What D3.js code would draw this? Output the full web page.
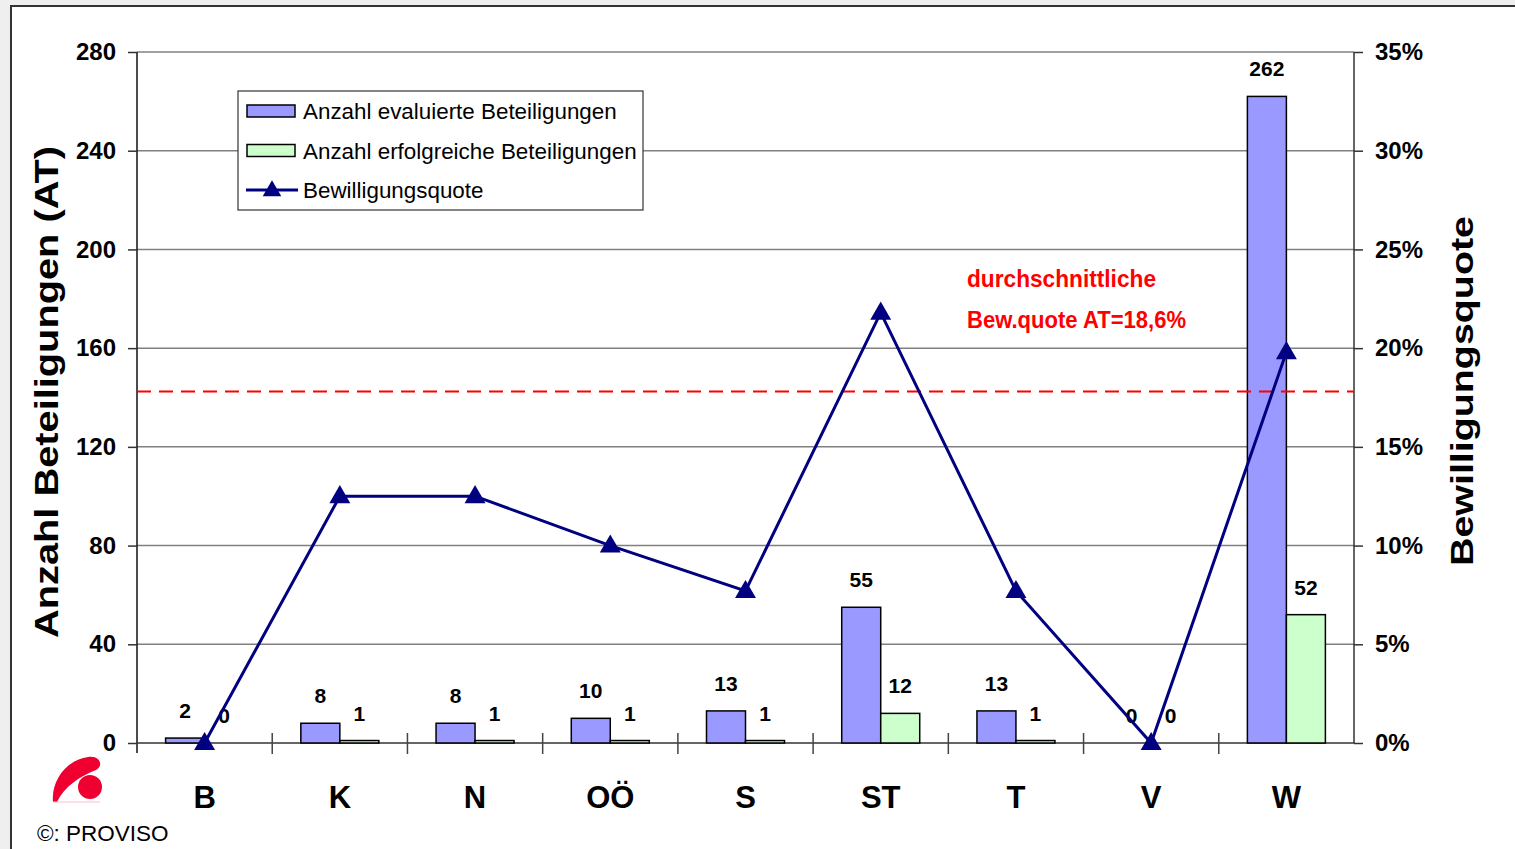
<!DOCTYPE html>
<html>
<head>
<meta charset="utf-8">
<script src="https://cdn.jsdelivr.net/npm/d3@7"></script>
<style>
  body { margin: 0; background: #efefef; }
  svg { display: block; }
</style>
</head>
<body>
<svg id="chart" width="1515" height="849"></svg>
<script>
// data
var regions = ["B", "K", "N", "OÖ", "S", "ST", "T", "V", "W"];
var evaluated = [2, 8, 8, 10, 13, 55, 13, 0, 262];
var successful = [0, 1, 1, 1, 1, 12, 1, 0, 52];
var quote = [0, 0.125, 0.125, 0.10, 0.077, 0.218, 0.077, 0, 0.198];
var averageLine = 0.178;
var leftTicks = [0, 40, 80, 120, 160, 200, 240, 280];
var rightTicks = [0, 0.05, 0.10, 0.15, 0.20, 0.25, 0.30, 0.35];
var legendNames = ["Anzahl evaluierte Beteiligungen", "Anzahl erfolgreiche Beteiligungen", "Bewilligungsquote"];

var svg = d3.select("#chart");
var font = "'Liberation Sans', Arial, sans-serif";
var margin = { left: 137, right: 1354, top: 52, bottom: 743 };

// white panel with frame
svg.append("rect")
  .attr("x", 11).attr("y", 6)
  .attr("width", 1515).attr("height", 900)
  .attr("fill", "white")
  .attr("stroke", "#333").attr("stroke-width", 2);

var x = d3.scaleBand()
  .domain(regions)
  .range([margin.left, margin.right]);

var y = d3.scaleLinear()
  .domain([0, 280])
  .range([margin.bottom, margin.top]);

var y2 = d3.scaleLinear()
  .domain([0, 0.35])
  .range([margin.bottom, margin.top]);

var barW = 39;

// gridlines
svg.append("g")
  .selectAll("line")
  .data(leftTicks.slice(1))
  .join("line")
  .attr("x1", margin.left).attr("x2", margin.right)
  .attr("y1", d => y(d)).attr("y2", d => y(d))
  .attr("stroke", "#808080").attr("stroke-width", 1.5);

// left axis
var leftAxis = svg.append("g")
  .attr("transform", "translate(" + margin.left + ",0)")
  .call(d3.axisLeft(y).tickValues(leftTicks).tickSize(9).tickPadding(12));
leftAxis.select(".domain").attr("stroke", "#111").attr("stroke-width", 1.5)
  .attr("d", "M0," + margin.top + "V" + (margin.bottom + 10));
leftAxis.selectAll(".tick line").attr("stroke", "#333").attr("stroke-width", 1.5);
leftAxis.selectAll(".tick text")
  .attr("font-family", font).attr("font-size", 24).attr("font-weight", "bold")
  .attr("fill", "#000");

// right axis
var rightAxis = svg.append("g")
  .attr("transform", "translate(" + margin.right + ",0)")
  .call(d3.axisRight(y2).tickValues(rightTicks).tickSize(9).tickPadding(12)
    .tickFormat(d3.format(".0%")));
rightAxis.select(".domain").attr("stroke", "#333").attr("stroke-width", 1.5)
  .attr("d", "M0," + margin.top + "V" + margin.bottom);
rightAxis.selectAll(".tick line").attr("stroke", "#333").attr("stroke-width", 1.5);
rightAxis.selectAll(".tick text")
  .attr("font-family", font).attr("font-size", 24).attr("font-weight", "bold")
  .attr("fill", "#000");

// bottom axis
var bottomAxis = svg.append("g")
  .attr("transform", "translate(0," + margin.bottom + ")");
bottomAxis.append("line")
  .attr("x1", margin.left).attr("x2", margin.right)
  .attr("stroke", "#333").attr("stroke-width", 1.5);
bottomAxis.selectAll(".sep")
  .data(regions.slice(1))
  .join("line")
  .attr("class", "sep")
  .attr("x1", d => x(d)).attr("x2", d => x(d))
  .attr("y1", -10).attr("y2", 11)
  .attr("stroke", "#444").attr("stroke-width", 1.5);
bottomAxis.selectAll(".cat")
  .data(regions)
  .join("text")
  .attr("class", "cat")
  .attr("x", d => x(d) + x.bandwidth() / 2)
  .attr("y", 65)
  .attr("text-anchor", "middle")
  .attr("font-family", font).attr("font-size", 31).attr("font-weight", "bold")
  .text(d => d);

// bars
var bars = svg.append("g");
bars.selectAll(".eval")
  .data(evaluated)
  .join("rect")
  .attr("class", "eval")
  .attr("x", (d, i) => x(regions[i]) + x.bandwidth() / 2 - barW)
  .attr("y", d => y(d))
  .attr("width", barW)
  .attr("height", d => y(0) - y(d))
  .attr("fill", "#9999ff")
  .attr("stroke", "#000").attr("stroke-width", 1.5);
bars.selectAll(".succ")
  .data(successful)
  .join("rect")
  .attr("class", "succ")
  .attr("x", (d, i) => x(regions[i]) + x.bandwidth() / 2)
  .attr("y", d => y(d))
  .attr("width", barW)
  .attr("height", d => y(0) - y(d))
  .attr("fill", "#ccffcc")
  .attr("stroke", "#000").attr("stroke-width", 1.5);

// bar value labels
bars.selectAll(".evalLabel")
  .data(evaluated)
  .join("text")
  .attr("x", (d, i) => x(regions[i]) + x.bandwidth() / 2 - barW / 2)
  .attr("y", d => y(d) - 20)
  .attr("text-anchor", "middle")
  .attr("font-family", font).attr("font-size", 21).attr("font-weight", "bold")
  .text(d => d);
bars.selectAll(".succLabel")
  .data(successful)
  .join("text")
  .attr("x", (d, i) => x(regions[i]) + x.bandwidth() / 2 + barW / 2)
  .attr("y", d => y(d) - 20)
  .attr("text-anchor", "middle")
  .attr("font-family", font).attr("font-size", 21).attr("font-weight", "bold")
  .text(d => d);

// average line
svg.append("line")
  .attr("x1", margin.left).attr("x2", margin.right)
  .attr("y1", y2(averageLine)).attr("y2", y2(averageLine))
  .attr("stroke", "#ff0000").attr("stroke-width", 2)
  .attr("stroke-dasharray", "14,8");

svg.append("text")
  .attr("x", 967).attr("y", 287)
  .attr("font-family", "'Liberation Sans Narrow', 'Liberation Sans', Arial, sans-serif")
  .attr("font-size", 24).attr("font-weight", "bold")
  .attr("fill", "#ff0000")
  .attr("textLength", 189).attr("lengthAdjust", "spacingAndGlyphs")
  .text("durchschnittliche");
svg.append("text")
  .attr("x", 967).attr("y", 328)
  .attr("font-family", "'Liberation Sans Narrow', 'Liberation Sans', Arial, sans-serif")
  .attr("font-size", 24).attr("font-weight", "bold")
  .attr("fill", "#ff0000")
  .attr("textLength", 219).attr("lengthAdjust", "spacingAndGlyphs")
  .text("Bew.quote AT=18,6%");

// quote line
var line = d3.line()
  .x((d, i) => x(regions[i]) + x.bandwidth() / 2)
  .y(d => y2(d));
svg.append("path")
  .datum(quote)
  .attr("d", line)
  .attr("fill", "none")
  .attr("stroke", "#000080").attr("stroke-width", 3);
svg.append("g")
  .selectAll("path")
  .data(quote)
  .join("path")
  .attr("d", d3.symbol(d3.symbolTriangle, 190))
  .attr("transform", (d, i) => "translate(" + (x(regions[i]) + x.bandwidth() / 2) + "," + (y2(d) + 1) + ")")
  .attr("fill", "#000080");

// axis titles
svg.append("text")
  .attr("transform", "translate(58,392) rotate(-90)")
  .attr("text-anchor", "middle")
  .attr("font-family", font).attr("font-size", 34).attr("font-weight", "bold")
  .attr("textLength", 492).attr("lengthAdjust", "spacingAndGlyphs")
  .text("Anzahl Beteiligungen (AT)");
svg.append("text")
  .attr("transform", "translate(1473,391) rotate(-90)")
  .attr("text-anchor", "middle")
  .attr("font-family", font).attr("font-size", 31).attr("font-weight", "bold")
  .attr("textLength", 350).attr("lengthAdjust", "spacingAndGlyphs")
  .text("Bewilligungsquote");

// legend
var legend = svg.append("g").attr("transform", "translate(238,91)");
legend.append("rect")
  .attr("width", 405).attr("height", 119)
  .attr("fill", "white")
  .attr("stroke", "#333").attr("stroke-width", 1.2);
var legendY = d3.scalePoint().domain(legendNames).range([20, 99]);
legend.selectAll(".sw")
  .data(legendNames.slice(0, 2))
  .join("rect")
  .attr("x", 9).attr("y", d => legendY(d) - 6)
  .attr("width", 48).attr("height", 12)
  .attr("fill", (d, i) => i === 0 ? "#9999ff" : "#ccffcc")
  .attr("stroke", "#000").attr("stroke-width", 1.5);
legend.append("line")
  .attr("x1", 8).attr("x2", 60)
  .attr("y1", legendY(legendNames[2])).attr("y2", legendY(legendNames[2]))
  .attr("stroke", "#000080").attr("stroke-width", 3);
legend.append("path")
  .attr("d", d3.symbol(d3.symbolTriangle, 150))
  .attr("transform", "translate(34," + (legendY(legendNames[2]) + 1) + ")")
  .attr("fill", "#000080");
legend.selectAll(".lt")
  .data(legendNames)
  .join("text")
  .attr("x", 65).attr("y", d => legendY(d) + 8)
  .attr("font-family", font).attr("font-size", 22.4)
  .text(d => d);

// logo
var logo = svg.append("g");
logo.append("path")
  .attr("d", "M53,802 C51,781 66,760 88,757 C100,755 104,766 96,770 C80,776 64,787 57,802 Z")
  .attr("fill", "#f00030");
logo.append("line")
  .attr("x1", 53).attr("x2", 100).attr("y1", 802).attr("y2", 802)
  .attr("stroke", "#f8c0c8").attr("stroke-width", 1);
logo.append("circle")
  .attr("cx", 90).attr("cy", 787).attr("r", 12)
  .attr("fill", "#f00030");
svg.append("text")
  .attr("x", 37).attr("y", 841)
  .attr("font-family", font).attr("font-size", 22.5)
  .text("©: PROVISO");
</script>
</body>
</html>
